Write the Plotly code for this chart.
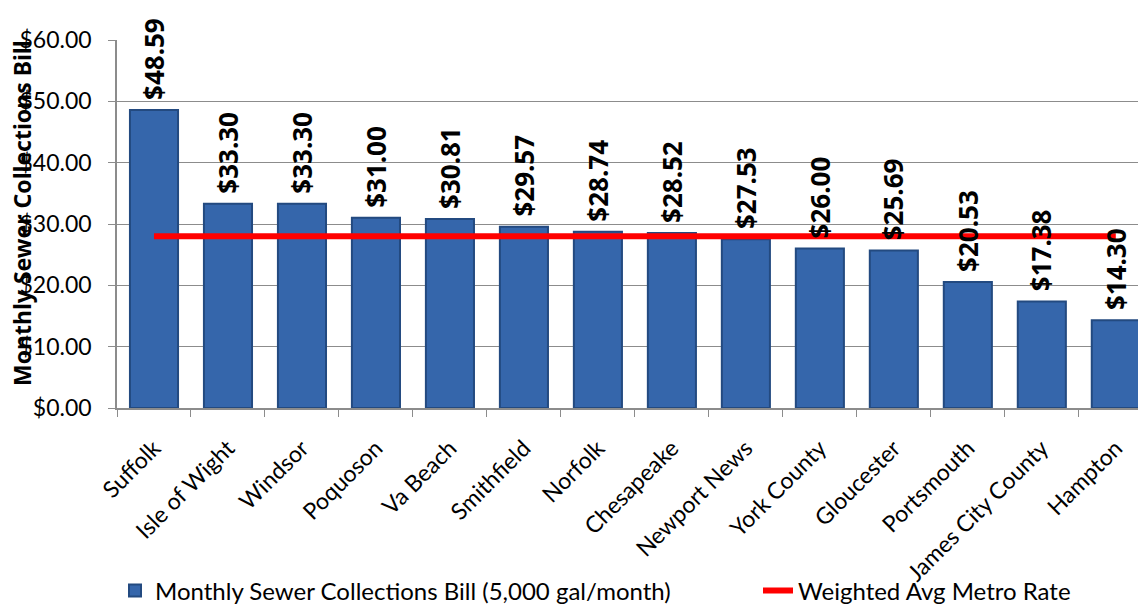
import plotly.graph_objects as go

# Monthly sewer collection bills by locality (5,000 gal/month)
localities = ["Suffolk", "Isle of Wight", "Windsor", "Poquoson", "Va Beach", "Smithfield",
              "Norfolk", "Chesapeake", "Newport News", "York County", "Gloucester",
              "Portsmouth", "James City County", "Hampton"]
monthly_bill = [48.59, 33.30, 33.30, 31.00, 30.81, 29.57, 28.74, 28.52, 27.53,
                26.00, 25.69, 20.53, 17.38, 14.30]
weighted_avg = 28.0
y_ticks = [0, 10, 20, 30, 40, 50, 60]
y_tick_text = ["$%.2f" % v for v in y_ticks]

FONT = "Lato"
BOLD_FONT = "Noto Sans"
W, H = 1138, 605
M_L, M_R, M_T, M_B = 117, 0, 40, 197

fig = go.Figure()
fig.add_trace(go.Bar(
    x=localities, y=monthly_bill,
    name="Monthly Sewer Collections Bill (5,000 gal/month)",
    marker=dict(color="#3566AB", line=dict(color="#234A80", width=2)),
    legend="legend",
))
fig.add_trace(go.Scatter(
    x=localities, y=[weighted_avg] * len(localities),
    mode="lines", name="Weighted Avg Metro Rate",
    line=dict(color="#FF0000", width=6),
    legend="legend2",
))

# value labels above each bar, rotated vertically
for name, val in zip(localities, monthly_bill):
    fig.add_annotation(
        x=name, y=val, text="<b>$%.2f</b>" % val, showarrow=False,
        textangle=-90, yanchor="bottom", xanchor="center", yshift=8,
        font=dict(family=BOLD_FONT, size=26, color="black"),
    )

plot_w = W - M_L - M_R
plot_h = H - M_T - M_B
fig.add_annotation(
    xref="paper", yref="paper",
    x=(22 - M_L) / plot_w, y=(H - M_B - 213) / plot_h,
    text="<b>Monthly Sewer Collections Bill</b>", showarrow=False,
    textangle=-90, xanchor="center", yanchor="middle",
    font=dict(family=BOLD_FONT, size=23, color="black"),
)

legend_common = dict(orientation="h", xref="container", yref="container",
                     y=(605 - 591) / H, xanchor="left", yanchor="middle",
                     font=dict(family=FONT, size=24, color="black"),
                     bgcolor="rgba(0,0,0,0)")
fig.update_layout(
    width=W, height=H,
    margin=dict(l=M_L, r=M_R, t=M_T, b=M_B, autoexpand=False),
    paper_bgcolor="white", plot_bgcolor="white",
    bargap=0.35,
    showlegend=True,
    legend=dict(x=115 / W, **legend_common),
    legend2=dict(x=758 / W, **legend_common),
    font=dict(family=FONT, color="black"),
)
fig.update_xaxes(
    range=[-0.5, 13.3], tickangle=-45,
    tickfont=dict(family=FONT, size=23, color="black"),
    showline=True, linecolor="#8C8C8C", linewidth=1.5,
    ticks="outside", ticklen=7, tickcolor="#8C8C8C", tickson="boundaries",
    ticklabelstandoff=16,
    showgrid=False,
)
fig.update_yaxes(
    range=[0, 60], tickvals=y_ticks, ticktext=y_tick_text,
    tickfont=dict(family=FONT, size=23, color="black"),
    showline=True, linecolor="#8C8C8C", linewidth=1.5,
    ticks="outside", ticklen=7, tickcolor="#8C8C8C", ticklabelstandoff=12,
    showgrid=True, gridcolor="#8C8C8C", gridwidth=1.2, zeroline=False,
)

fig.write_html("out.html")
